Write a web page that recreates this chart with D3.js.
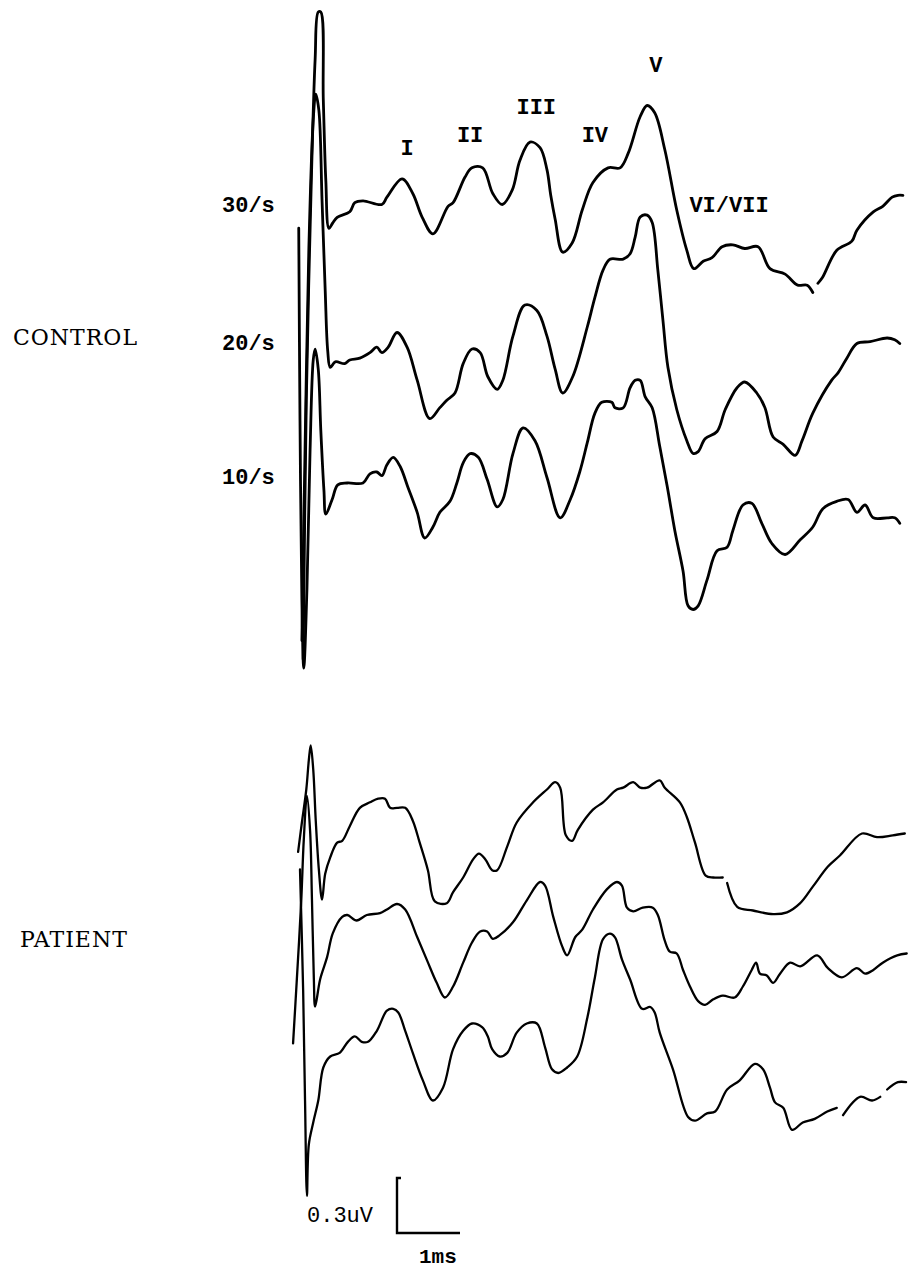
<!DOCTYPE html>
<html>
<head>
<meta charset="utf-8">
<script src="https://cdn.jsdelivr.net/npm/d3@7"></script>
<style>
  body { margin: 0; background: #fff; }
  svg { display: block; }
</style>
</head>
<body>
<div id="chart"></div>
<script>
// ABR traces, [latency ms, amplitude uV] relative to each trace's own baseline
// null = small break in the pen trace
const control30 = [[0.05,-2.45],[0.10,-1.04],[0.16,-0.11],[0.24,0.82],[0.29,1.08],[0.33,1.08],[0.37,0.60],[0.41,0.16],[0.46,-0.10],
  [0.52,-0.07],[0.59,-0.04],[0.79,-0.01],[0.87,0.04],[1.00,0.05],[1.30,0.03],[1.38,0.07],[1.62,0.17],[1.79,0.09],[1.94,-0.04],
  [2.11,-0.13],[2.35,0.02],[2.43,0.04],[2.62,0.18],[2.73,0.23],[2.90,0.23],[3.06,0.09],[3.21,0.03],[3.37,0.11],[3.49,0.27],
  [3.65,0.37],[3.81,0.34],[3.92,0.22],[3.98,0.08],[4.05,-0.05],[4.17,-0.23],[4.32,-0.18],[4.48,0.00],[4.65,0.15],[4.89,0.23],
  [5.08,0.23],[5.21,0.31],[5.40,0.51],[5.51,0.57],[5.63,0.53],[5.79,0.33],[5.98,0.00],[6.14,-0.22],[6.25,-0.32],[6.40,-0.28],
  [6.54,-0.26],[6.70,-0.20],[6.87,-0.19],[7.06,-0.21],[7.27,-0.20],[7.46,-0.32],[7.70,-0.35],[7.90,-0.41],[8.05,-0.41],[8.14,-0.45],
  null,[8.22,-0.40],[8.29,-0.37],[8.52,-0.22],[8.76,-0.17],[8.84,-0.11],[9.10,-0.01],[9.25,0.02],[9.40,0.07],[9.49,0.08],[9.57,0.08]];

const control20 = [[0.03,-1.53],[0.08,-0.49],[0.14,0.60],[0.21,1.31],[0.25,1.45],[0.30,1.36],[0.35,0.87],[0.40,0.38],[0.44,0.05],
  [0.48,-0.04],[0.56,-0.01],[0.71,-0.02],[0.79,0.00],[0.95,0.01],[1.11,0.04],[1.22,0.07],[1.30,0.04],[1.40,0.07],[1.54,0.15],
  [1.70,0.07],[1.86,-0.11],[2.06,-0.32],[2.22,-0.26],[2.33,-0.22],[2.46,-0.18],[2.59,-0.02],[2.73,0.06],[2.86,0.04],[2.98,-0.09],
  [3.13,-0.16],[3.22,-0.11],[3.38,0.13],[3.57,0.30],[3.76,0.27],[3.92,0.13],[4.05,-0.05],[4.17,-0.18],[4.33,-0.09],[4.56,0.18],
  [4.68,0.34],[4.81,0.49],[4.92,0.55],[5.13,0.55],[5.24,0.58],[5.32,0.67],[5.40,0.78],[5.51,0.79],[5.59,0.75],[5.68,0.49],
  [5.76,0.22],[5.84,-0.04],[5.98,-0.27],[6.14,-0.44],[6.24,-0.51],[6.32,-0.50],[6.43,-0.43],[6.62,-0.39],[6.75,-0.27],[6.94,-0.15],
  [7.06,-0.12],[7.25,-0.18],[7.38,-0.26],[7.51,-0.42],[7.67,-0.46],[7.86,-0.52],[7.97,-0.44],[8.14,-0.29],[8.44,-0.11],[8.54,-0.07],
  [8.68,0.01],[8.84,0.09],[9.05,0.10],[9.32,0.12],[9.44,0.11],[9.52,0.09]];

const control10 = [[-0.02,1.39],[0.00,0.34],[0.03,-0.64],[0.06,-1.01],[0.11,-0.58],[0.16,0.18],[0.21,0.67],[0.24,0.73],[0.29,0.62],
  [0.33,0.29],[0.38,-0.04],[0.41,-0.17],[0.51,-0.09],[0.60,-0.01],[0.75,0.00],[1.00,0.00],[1.11,0.05],[1.22,0.06],[1.30,0.04],
  [1.38,0.10],[1.48,0.14],[1.59,0.09],[1.71,-0.02],[1.86,-0.16],[1.98,-0.30],[2.11,-0.24],[2.22,-0.16],[2.38,-0.10],[2.49,0.00],
  [2.59,0.11],[2.70,0.16],[2.83,0.14],[2.97,0.02],[3.13,-0.13],[3.22,-0.09],[3.38,0.16],[3.54,0.30],[3.73,0.23],[3.92,0.03],
  [4.13,-0.19],[4.29,-0.09],[4.44,0.06],[4.56,0.22],[4.68,0.38],[4.79,0.44],[4.95,0.44],[5.00,0.41],[5.13,0.41],[5.24,0.52],
  [5.32,0.56],[5.40,0.56],[5.48,0.47],[5.59,0.41],[5.71,0.20],[5.83,-0.02],[5.95,-0.26],[6.08,-0.48],[6.16,-0.67],[6.24,-0.69],
  [6.32,-0.67],[6.46,-0.53],[6.62,-0.37],[6.78,-0.35],[6.87,-0.26],[7.03,-0.12],[7.17,-0.11],[7.33,-0.22],[7.49,-0.33],[7.70,-0.39],
  [7.94,-0.31],[8.14,-0.24],[8.30,-0.14],[8.52,-0.10],[8.70,-0.09],[8.84,-0.16],[8.97,-0.12],[9.10,-0.19],[9.32,-0.19],[9.44,-0.19],[9.52,-0.22]];

const patient30 = [[-0.03,-0.01],[0.03,0.15],[0.10,0.33],[0.14,0.49],[0.17,0.57],[0.21,0.44],[0.25,0.16],[0.30,-0.11],[0.35,-0.27],
  [0.40,-0.13],[0.48,-0.04],[0.59,0.04],[0.67,0.05],[0.79,0.13],[0.95,0.23],[1.11,0.26],[1.24,0.28],[1.35,0.28],[1.43,0.23],
  [1.54,0.23],[1.67,0.23],[1.79,0.16],[1.90,0.04],[2.03,-0.11],[2.14,-0.28],[2.33,-0.29],[2.43,-0.23],[2.59,-0.15],[2.75,-0.05],
  [2.84,-0.02],[2.94,-0.05],[3.05,-0.11],[3.13,-0.11],[3.29,0.02],[3.44,0.15],[3.70,0.26],[3.92,0.33],[4.05,0.37],[4.13,0.34],
  [4.22,0.08],[4.32,0.05],[4.41,0.11],[4.65,0.22],[4.81,0.26],[5.03,0.33],[5.13,0.34],[5.29,0.37],[5.40,0.34],[5.51,0.34],
  [5.71,0.38],[5.79,0.34],[6.03,0.26],[6.14,0.18],[6.27,0.04],[6.44,-0.14],[6.56,-0.15],[6.71,-0.15],null,[6.78,-0.18],[6.94,-0.31],
  [7.19,-0.33],[7.51,-0.35],[7.73,-0.34],[7.94,-0.29],[8.14,-0.20],[8.38,-0.09],[8.57,-0.03],[8.92,0.09],[9.16,0.07],[9.41,0.08],[9.60,0.09]];

const patient20 = [[-0.11,-0.70],[-0.05,-0.35],[0.02,0.08],[0.06,0.41],[0.11,0.65],[0.16,0.46],[0.19,0.08],[0.22,-0.35],[0.24,-0.50],
  [0.32,-0.35],[0.43,-0.23],[0.52,-0.10],[0.67,-0.01],[0.75,0.00],[0.90,-0.03],[1.06,0.00],[1.27,0.01],[1.38,0.03],[1.54,0.06],
  [1.67,0.03],[1.86,-0.12],[2.02,-0.25],[2.17,-0.37],[2.30,-0.45],[2.43,-0.39],[2.59,-0.26],[2.73,-0.15],[2.86,-0.09],[2.97,-0.09],
  [3.06,-0.13],[3.17,-0.11],[3.38,-0.04],[3.60,0.08],[3.81,0.18],[3.89,0.16],[4.02,-0.01],[4.16,-0.17],[4.24,-0.22],[4.37,-0.12],
  [4.48,-0.08],[4.65,0.03],[4.87,0.14],[5.03,0.18],[5.11,0.16],[5.19,0.04],[5.29,0.02],[5.44,0.04],[5.60,0.04],[5.68,0.00],
  [5.79,-0.14],[5.87,-0.20],[5.98,-0.21],[6.08,-0.30],[6.19,-0.39],[6.32,-0.47],[6.43,-0.49],[6.56,-0.46],[6.71,-0.44],[6.90,-0.45],
  [7.03,-0.39],[7.17,-0.30],[7.24,-0.26],[7.30,-0.32],[7.41,-0.33],[7.51,-0.37],[7.62,-0.32],[7.78,-0.26],[7.94,-0.28],[8.21,-0.22],
  [8.38,-0.29],[8.60,-0.34],[8.84,-0.29],[8.97,-0.32],[9.10,-0.30],[9.25,-0.26],[9.48,-0.22],[9.63,-0.21]];

const patient10 = [[0.00,0.93],[0.05,0.27],[0.08,-0.33],[0.11,-0.85],[0.14,-0.57],[0.21,-0.45],[0.29,-0.33],[0.37,-0.15],[0.48,-0.09],
  [0.63,-0.07],[0.76,-0.01],[0.87,0.02],[0.98,-0.01],[1.08,-0.01],[1.22,0.05],[1.38,0.16],[1.48,0.17],[1.56,0.15],[1.67,0.05],
  [1.79,-0.07],[1.95,-0.22],[2.11,-0.33],[2.27,-0.26],[2.43,-0.05],[2.59,0.05],[2.73,0.09],[2.89,0.07],[2.98,0.02],[3.05,-0.05],
  [3.17,-0.09],[3.29,-0.07],[3.44,0.04],[3.60,0.09],[3.76,0.09],[3.89,-0.04],[4.00,-0.16],[4.10,-0.18],[4.24,-0.15],[4.40,-0.09],
  [4.56,0.12],[4.68,0.34],[4.81,0.55],[4.92,0.58],[5.00,0.56],[5.11,0.44],[5.24,0.33],[5.43,0.17],[5.56,0.18],[5.63,0.15],
  [5.71,0.04],[5.92,-0.16],[6.16,-0.42],[6.27,-0.44],[6.46,-0.40],[6.59,-0.39],[6.78,-0.27],[6.98,-0.22],[7.22,-0.13],[7.35,-0.16],
  [7.46,-0.26],[7.54,-0.34],[7.67,-0.37],[7.81,-0.49],[7.98,-0.45],[8.17,-0.43],[8.37,-0.39],[8.52,-0.37],null,[8.62,-0.41],
  [8.89,-0.31],[9.08,-0.33],[9.21,-0.31],null,[9.32,-0.27],[9.49,-0.23],[9.62,-0.23]];

const rateLabels = ["30/s", "20/s", "10/s"];
const groupLabels = ["CONTROL", "PATIENT"];
const waveLabels = ["I", "II", "III", "IV", "V", "VI/VII"];
const waveLatency = [1.70, 2.70, 3.75, 4.68, 5.65, 6.81];
const scaleBarMs = 1;
const scaleBarUv = 0.3;

// layout
const width = 908, height = 1269;
const baselines = [210, 360, 483, 850, 915, 1040];
const waveLabelY = [155, 142, 114, 142, 72, 212];
const rateLabelY = [212, 350, 484];
const groupLabelY = [345, 947];

const svg = d3.select("#chart").append("svg")
    .attr("width", width).attr("height", height);

const x = d3.scaleLinear().domain([0, 1]).range([300, 363]);
// 0.3 uV = 55 px
const yFor = base => d3.scaleLinear().domain([0, 0.3]).range([base, base - 55]);

const traces = [
    {data: control30, w: 2.8},
    {data: control20, w: 2.8},
    {data: control10, w: 2.8},
    {data: patient30, w: 2.3},
    {data: patient20, w: 2.3},
    {data: patient10, w: 2.3}
];

traces.forEach((tr, i) => {
    let y = yFor(baselines[i]);
    let line = d3.line()
        .defined(d => d != null)
        .x(d => x(d[0]))
        .y(d => y(d[1]))
        .curve(d3.curveCatmullRom.alpha(0.5));
    svg.append("path")
        .datum(tr.data)
        .attr("d", line)
        .attr("fill", "none")
        .attr("stroke", "#000")
        .attr("stroke-width", tr.w)
        .attr("stroke-linejoin", "round")
        .attr("stroke-linecap", "round");
});

// wave labels
svg.selectAll(".wave")
    .data(waveLabels)
    .enter().append("text")
    .attr("x", (d, i) => x(waveLatency[i]))
    .attr("y", (d, i) => waveLabelY[i])
    .attr("text-anchor", "middle")
    .attr("font-family", "Liberation Mono, monospace")
    .attr("font-weight", "bold")
    .attr("font-size", "22px")
    .text(d => d);

// stimulation rates
svg.selectAll(".rate")
    .data(rateLabels)
    .enter().append("text")
    .attr("x", 222)
    .attr("y", (d, i) => rateLabelY[i])
    .attr("font-family", "Liberation Mono, monospace")
    .attr("font-weight", "bold")
    .attr("font-size", "22px")
    .text(d => d);

svg.selectAll(".group")
    .data(groupLabels)
    .enter().append("text")
    .attr("x", (d, i) => i == 0 ? 13 : 20)
    .attr("y", (d, i) => groupLabelY[i])
    .attr("font-family", "DejaVu Serif, serif")
    .attr("font-size", "22px")
    .attr("letter-spacing", "1px")
    .text(d => d);

// scale bar
let ys = yFor(1233);
let x0 = 397;
let gBar = svg.append("g");
gBar.append("path")
    .attr("d", `M${x0 + 4},${ys(scaleBarUv)} L${x0},${ys(scaleBarUv)} L${x0},${ys(0)} L${x0 + (x(scaleBarMs) - x(0))},${ys(0)}`)
    .attr("fill", "none")
    .attr("stroke", "#000")
    .attr("stroke-width", 2.4);
gBar.append("text")
    .attr("x", 307)
    .attr("y", 1222)
    .attr("font-family", "Liberation Mono, monospace")
    .attr("font-size", "22px")
    .text(scaleBarUv.toFixed(1) + "uV");
gBar.append("text")
    .attr("x", 419)
    .attr("y", 1263)
    .attr("font-family", "Liberation Mono, monospace")
    .attr("font-weight", "bold")
    .attr("font-size", "21px")
    .text(scaleBarMs + "ms");
</script>
</body>
</html>
